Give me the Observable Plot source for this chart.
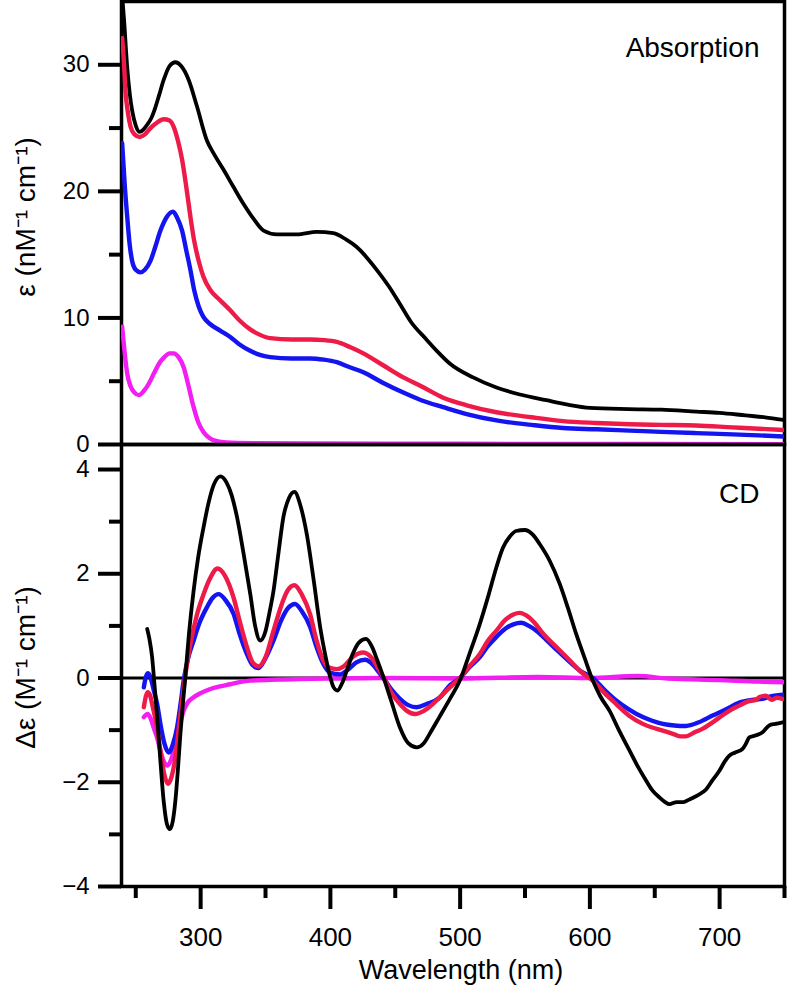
<!DOCTYPE html>
<html><head><meta charset="utf-8">
<script src="https://cdn.jsdelivr.net/npm/d3@7"></script>
<script src="https://cdn.jsdelivr.net/npm/@observablehq/plot@0.6"></script>
<style>
body{margin:0;background:#fff;}
#chart{position:relative;width:788px;height:995px;overflow:hidden;background:#fff;}
#chart svg{position:absolute;left:0;max-width:none;}
</style></head><body><div id="chart"></div>
<script>
// ---- Absorption (epsilon, nM^-1 cm^-1) vs wavelength (nm) ----
const absBlack = [[239.5,35.5],[241,33.5],[243.4,29.8],[245.5,27.6],[247.2,26.4],[250,25.2],[253.1,24.7],[256,24.9],[259,25.3],[262,25.8],[265,26.6],[268,27.6],[271.5,28.8],[276,29.9],[280.5,30.2],[285,29.9],[290.8,28.8],[297.2,26.7],[304.9,24.0],[310,23.0],[317.7,21.7],[325,20.4],[333.1,19.0],[341,17.8],[348.5,16.9],[358.8,16.6],[374.2,16.6],[389.5,16.8],[402.3,16.7],[412,16.2],[420.3,15.6],[435.7,13.8],[445,12.5],[453.6,11.1],[462,9.7],[474,8.3],[482,7.4],[492,6.4],[510,5.3],[528,4.5],[546,3.95],[566.5,3.5],[583,3.15],[600,2.9],[630,2.8],[655,2.75],[682,2.6],[700,2.5],[720,2.3],[735,2.15],[749,1.95]];
const absRed = [[239.5,32.1],[241,30.0],[242,28.0],[244,26.2],[246,25.1],[249,24.5],[253.1,24.3],[257,24.5],[261.3,25.0],[266,25.4],[271.5,25.7],[276,25.6],[279.2,25.1],[282.5,24.0],[285.7,22.5],[289,20.3],[292.1,18.0],[295,16.1],[298.5,14.5],[302,13.3],[307.5,12.2],[315,11.4],[322.8,10.6],[330,9.8],[338.2,9.1],[345,8.7],[353.6,8.4],[370,8.3],[384.4,8.3],[395,8.25],[404.9,8.1],[415,7.7],[425.4,7.2],[440,6.3],[456.2,5.3],[470,4.6],[486.9,3.7],[505,3.1],[528,2.55],[555,2.15],[579.2,1.85],[605,1.7],[630.5,1.6],[655,1.55],[681.8,1.5],[710,1.35],[730,1.25],[749,1.15]];
const absBlue = [[239.5,23.8],[241.5,20.5],[243.4,18.0],[245.3,15.8],[247.2,14.5],[250,13.8],[253.6,13.6],[257,13.8],[261.3,14.5],[265,15.6],[269,16.9],[274,18.0],[278.7,18.4],[282,17.9],[285.7,16.9],[289,15.3],[292.1,13.8],[295,12.2],[298.5,10.9],[302,10.1],[307.5,9.5],[315,9.0],[322.8,8.5],[330,7.9],[338.2,7.4],[345,7.1],[353.6,6.9],[370,6.8],[384.4,6.8],[395,6.7],[404.9,6.5],[415,6.1],[425.4,5.7],[440,4.9],[456.2,4.1],[470,3.5],[486.9,2.95],[505,2.4],[528,1.9],[555,1.55],[579.2,1.3],[605,1.2],[630.5,1.1],[655,1.0],[681.8,0.9],[710,0.8],[730,0.72],[749,0.63]];
const absMagenta = [[239.5,9.3],[241.5,7.2],[243.4,5.6],[246,4.6],[249,4.1],[252.3,3.9],[256,4.2],[260,4.8],[263.9,5.6],[268,6.4],[272,6.9],[276,7.2],[279.2,7.2],[283,6.9],[286.9,6.1],[290,4.9],[294.6,2.95],[298,1.8],[302.3,0.97],[307,0.5],[312.6,0.26],[320,0.17],[340,0.11],[380,0.08],[450,0.06],[550,0.05],[650,0.04],[749,0.03]];

// ---- CD (delta epsilon, M^-1 cm^-1) vs wavelength (nm) ----
const cdBlack = [[258.8,0.94],[260.5,0.75],[262.6,0.40],[264.5,-0.15],[266.5,-0.75],[269,-1.6],[271.5,-2.36],[274,-2.8],[276.2,-2.9],[278.5,-2.75],[280.5,-2.36],[282.5,-1.75],[284.4,-1.07],[286.3,-0.5],[288.2,0.02],[291,0.85],[294.6,1.68],[298,2.3],[302.3,2.90],[306,3.35],[310,3.7],[315.2,3.87],[320,3.75],[324,3.5],[328,3.09],[333,2.4],[338.2,1.62],[342,1.0],[345.9,0.72],[350,0.9],[353,1.25],[356.2,1.68],[360,2.4],[363.8,3.09],[368,3.45],[372.3,3.57],[377,3.3],[381.8,2.76],[387,1.9],[392.1,0.98],[396,0.45],[399.8,0.02],[402.5,-0.18],[405.4,-0.24],[409,-0.1],[412.6,0.14],[417,0.45],[422,0.68],[427.5,0.75],[432,0.6],[436,0.35],[440.8,0.02],[447,-0.45],[453.6,-0.95],[460,-1.25],[466.5,-1.33],[472,-1.25],[477,-1.05],[484,-0.75],[492.1,-0.4],[499.8,-0.05],[507,0.45],[515.2,1.04],[522,1.6],[528,2.13],[533,2.5],[538.2,2.71],[543,2.82],[549.8,2.84],[556,2.75],[561.3,2.57],[569,2.25],[576.7,1.81],[583,1.35],[589.5,0.84],[596,0.38],[602.3,-0.05],[608,-0.35],[615.2,-0.63],[622,-0.98],[630.5,-1.39],[637,-1.7],[643.4,-1.97],[648,-2.15],[653.6,-2.29],[658,-2.38],[661.3,-2.42],[667,-2.38],[672,-2.38],[676.7,-2.33],[683,-2.25],[689.5,-2.14],[694,-1.98],[699.8,-1.78],[704,-1.6],[707.5,-1.49],[712,-1.43],[717.7,-1.36],[720.5,-1.25],[722.8,-1.14],[728,-1.1],[733.1,-1.04],[738.2,-0.91],[743,-0.88],[748.5,-0.85]];
const cdRed = [[256.2,-0.56],[257.8,-0.35],[259.2,-0.27],[261,-0.33],[262.6,-0.5],[266,-0.9],[269,-1.39],[272,-1.85],[274.8,-2.03],[277.5,-1.9],[280.5,-1.53],[283,-1.0],[285.7,-0.43],[288.5,0.1],[292.1,0.65],[297,1.2],[302.3,1.61],[307,1.9],[313.1,2.10],[319,1.95],[325.4,1.54],[330,1.1],[335.7,0.59],[340,0.3],[344.6,0.22],[350,0.4],[356.2,0.91],[363,1.45],[367,1.68],[372.3,1.78],[378,1.6],[384.4,1.22],[389,0.75],[394.6,0.33],[399,0.2],[404.9,0.17],[410,0.22],[418,0.42],[425.4,0.49],[432,0.38],[436,0.22],[440.8,0.02],[447,-0.28],[453.6,-0.5],[459,-0.63],[465.2,-0.69],[472,-0.63],[481.9,-0.43],[492.1,-0.18],[499.8,0.0],[507,0.22],[515.2,0.46],[521,0.7],[528,0.91],[535,1.12],[541,1.22],[546,1.25],[551,1.2],[557,1.07],[564,0.85],[574,0.6],[584.4,0.34],[593,0.12],[602.3,-0.05],[611,-0.28],[620.3,-0.5],[630,-0.72],[640.8,-0.88],[648,-0.95],[656.2,-1.01],[665,-1.08],[670,-1.12],[674.1,-1.12],[680,-1.05],[687,-0.97],[694.6,-0.85],[702,-0.72],[708,-0.62],[715.2,-0.53],[722,-0.45],[728,-0.42],[731,-0.36],[735.7,-0.34],[740,-0.42],[744,-0.38],[748.5,-0.4]];
const cdBlue = [[256.2,-0.18],[257.8,0.02],[259.5,0.09],[261.5,0.0],[263.9,-0.24],[266.5,-0.5],[269,-0.88],[272,-1.25],[275.4,-1.43],[278.5,-1.28],[281.8,-0.95],[284.5,-0.5],[286.9,-0.05],[290,0.35],[294.6,0.72],[299,1.05],[304.9,1.36],[309,1.53],[313.9,1.61],[319,1.5],[325.4,1.23],[330,0.85],[335.7,0.46],[340,0.25],[344.6,0.19],[350,0.38],[356.2,0.72],[362,1.1],[367,1.33],[372.8,1.42],[378,1.28],[384.4,0.98],[389,0.62],[394.6,0.27],[400,0.1],[407.5,0.07],[413,0.15],[420,0.3],[426.7,0.35],[433,0.25],[437,0.12],[440.8,0.0],[447,-0.22],[453.6,-0.40],[460,-0.52],[466.5,-0.56],[474,-0.5],[484.4,-0.37],[492.1,-0.14],[499.8,0.0],[507,0.2],[515.2,0.40],[521,0.6],[528,0.79],[535,0.95],[541,1.03],[547.2,1.06],[553,1.0],[558,0.92],[564,0.79],[574,0.55],[584.4,0.31],[593,0.13],[602.3,0.0],[611,-0.22],[620.3,-0.43],[630,-0.6],[640.8,-0.75],[648,-0.82],[656.2,-0.88],[665,-0.91],[674.1,-0.92],[684,-0.85],[694.6,-0.72],[705,-0.6],[715.2,-0.47],[725,-0.42],[733.1,-0.4],[740,-0.35],[748.5,-0.32]];
const cdMagenta = [[256.2,-0.75],[259.2,-0.69],[261.5,-0.78],[263.9,-0.96],[266.5,-1.15],[269,-1.40],[272,-1.62],[274.3,-1.68],[277.5,-1.55],[280.5,-1.27],[283.5,-0.95],[286.9,-0.63],[290,-0.47],[294.6,-0.37],[300,-0.29],[307.5,-0.21],[315,-0.16],[322.8,-0.12],[330,-0.08],[338.2,-0.05],[360,-0.03],[400,-0.01],[440,0.0],[500,-0.01],[560,0.02],[600,0.0],[637,0.04],[660,-0.01],[700,-0.04],[730,-0.07],[749,-0.08]];

// ---- axes / labels ----
const xDomain = [239, 750];
const xMajorTicks = [300, 400, 500, 600, 700];
const xMinorTicks = [250, 350, 450, 550, 650, 750];
const absDomain = [0, 35];
const absMajorTicks = [0, 10, 20, 30];
const absMinorTicks = [5, 15, 25];
const cdDomain = [-4, 4.48];
const cdMajorTicks = [-4, -2, 0, 2, 4];
const cdMinorTicks = [-3, -1, 1, 3];
const xLabel = "Wavelength (nm)";
const absLabel = "ε (nM⁻¹ cm⁻¹)";
const cdLabel = "Δε (M⁻¹ cm⁻¹)";
const absTitle = "Absorption";
const cdTitle = "CD";

const FONT = "'Liberation Sans', Arial, Helvetica, sans-serif";
const C = {black: "#000000", red: "#ee1a48", blue: "#1414f0", magenta: "#f21ef2"};
const baseStyle = {fontFamily: FONT, fontSize: "24px", background: "transparent", overflow: "visible", color: "#000"};
const ln = (data, color, w) => Plot.line(data, {x: d => d[0], y: d => d[1], stroke: color, strokeWidth: w, curve: "monotone-x", clip: true, strokeLinejoin: "round"});

const chart = document.getElementById("chart");

const absPlot = Plot.plot({
  width: 788, height: 446,
  marginLeft: 121, marginRight: 4, marginTop: 1, marginBottom: 2,
  style: baseStyle,
  x: {domain: xDomain, axis: null},
  y: {domain: absDomain, axis: null},
  marks: [
    Plot.frame({stroke: "#000", strokeWidth: 3.5}),
    Plot.axisY({ticks: absMajorTicks, tickSize: 23, tickPadding: 9, strokeWidth: 4, fontSize: 24, label: null}),
    Plot.axisY({ticks: absMinorTicks, tickSize: 12, strokeWidth: 4, tickFormat: () => "", label: null}),
    ln(absBlack, C.black, 3.8),
    ln(absBlue, C.blue, 4.4),
    ln(absRed, C.red, 4.4),
    ln(absMagenta, C.magenta, 4.4),
    Plot.text([absTitle], {frameAnchor: "top-right", textAnchor: "end", lineAnchor: "top", dx: -25, dy: 36, fontSize: 28}),
    Plot.text([absLabel], {frameAnchor: "left", rotate: -90, textAnchor: "middle", dx: -95, dy: -6, fontSize: 28})
  ]
});
absPlot.style.top = "0px";
chart.appendChild(absPlot);

const cdPlot = Plot.plot({
  width: 788, height: 551,
  marginLeft: 121, marginRight: 4, marginTop: 0, marginBottom: 109,
  style: baseStyle,
  x: {domain: xDomain, axis: null},
  y: {domain: cdDomain, axis: null},
  marks: [
    Plot.frame({stroke: "#000", strokeWidth: 3.5}),
    Plot.ruleY([0], {stroke: "#000", strokeWidth: 3}),
    Plot.axisY({ticks: cdMajorTicks, tickSize: 23, tickPadding: 9, strokeWidth: 4, fontSize: 24, label: null}),
    Plot.axisY({ticks: cdMinorTicks, tickSize: 12, strokeWidth: 4, tickFormat: () => "", label: null}),
    Plot.axisX({ticks: xMajorTicks, tickSize: 23, tickPadding: 18, strokeWidth: 4, fontSize: 26, label: null}),
    Plot.axisX({ticks: xMinorTicks, tickSize: 12, strokeWidth: 4, tickFormat: () => "", label: null}),
    ln(cdMagenta, C.magenta, 4.4),
    ln(cdBlue, C.blue, 4.4),
    ln(cdRed, C.red, 4.4),
    ln(cdBlack, C.black, 3.8),
    Plot.text([cdTitle], {frameAnchor: "top-right", textAnchor: "end", lineAnchor: "top", dx: -25, dy: 39, fontSize: 28}),
    Plot.text([cdLabel], {frameAnchor: "left", rotate: -90, textAnchor: "middle", dx: -95, dy: 2, fontSize: 28}),
    Plot.text([xLabel], {frameAnchor: "bottom", dx: 8, dy: 92, fontSize: 27})
  ]
});
cdPlot.style.top = "444px";
chart.appendChild(cdPlot);
</script></body></html>
